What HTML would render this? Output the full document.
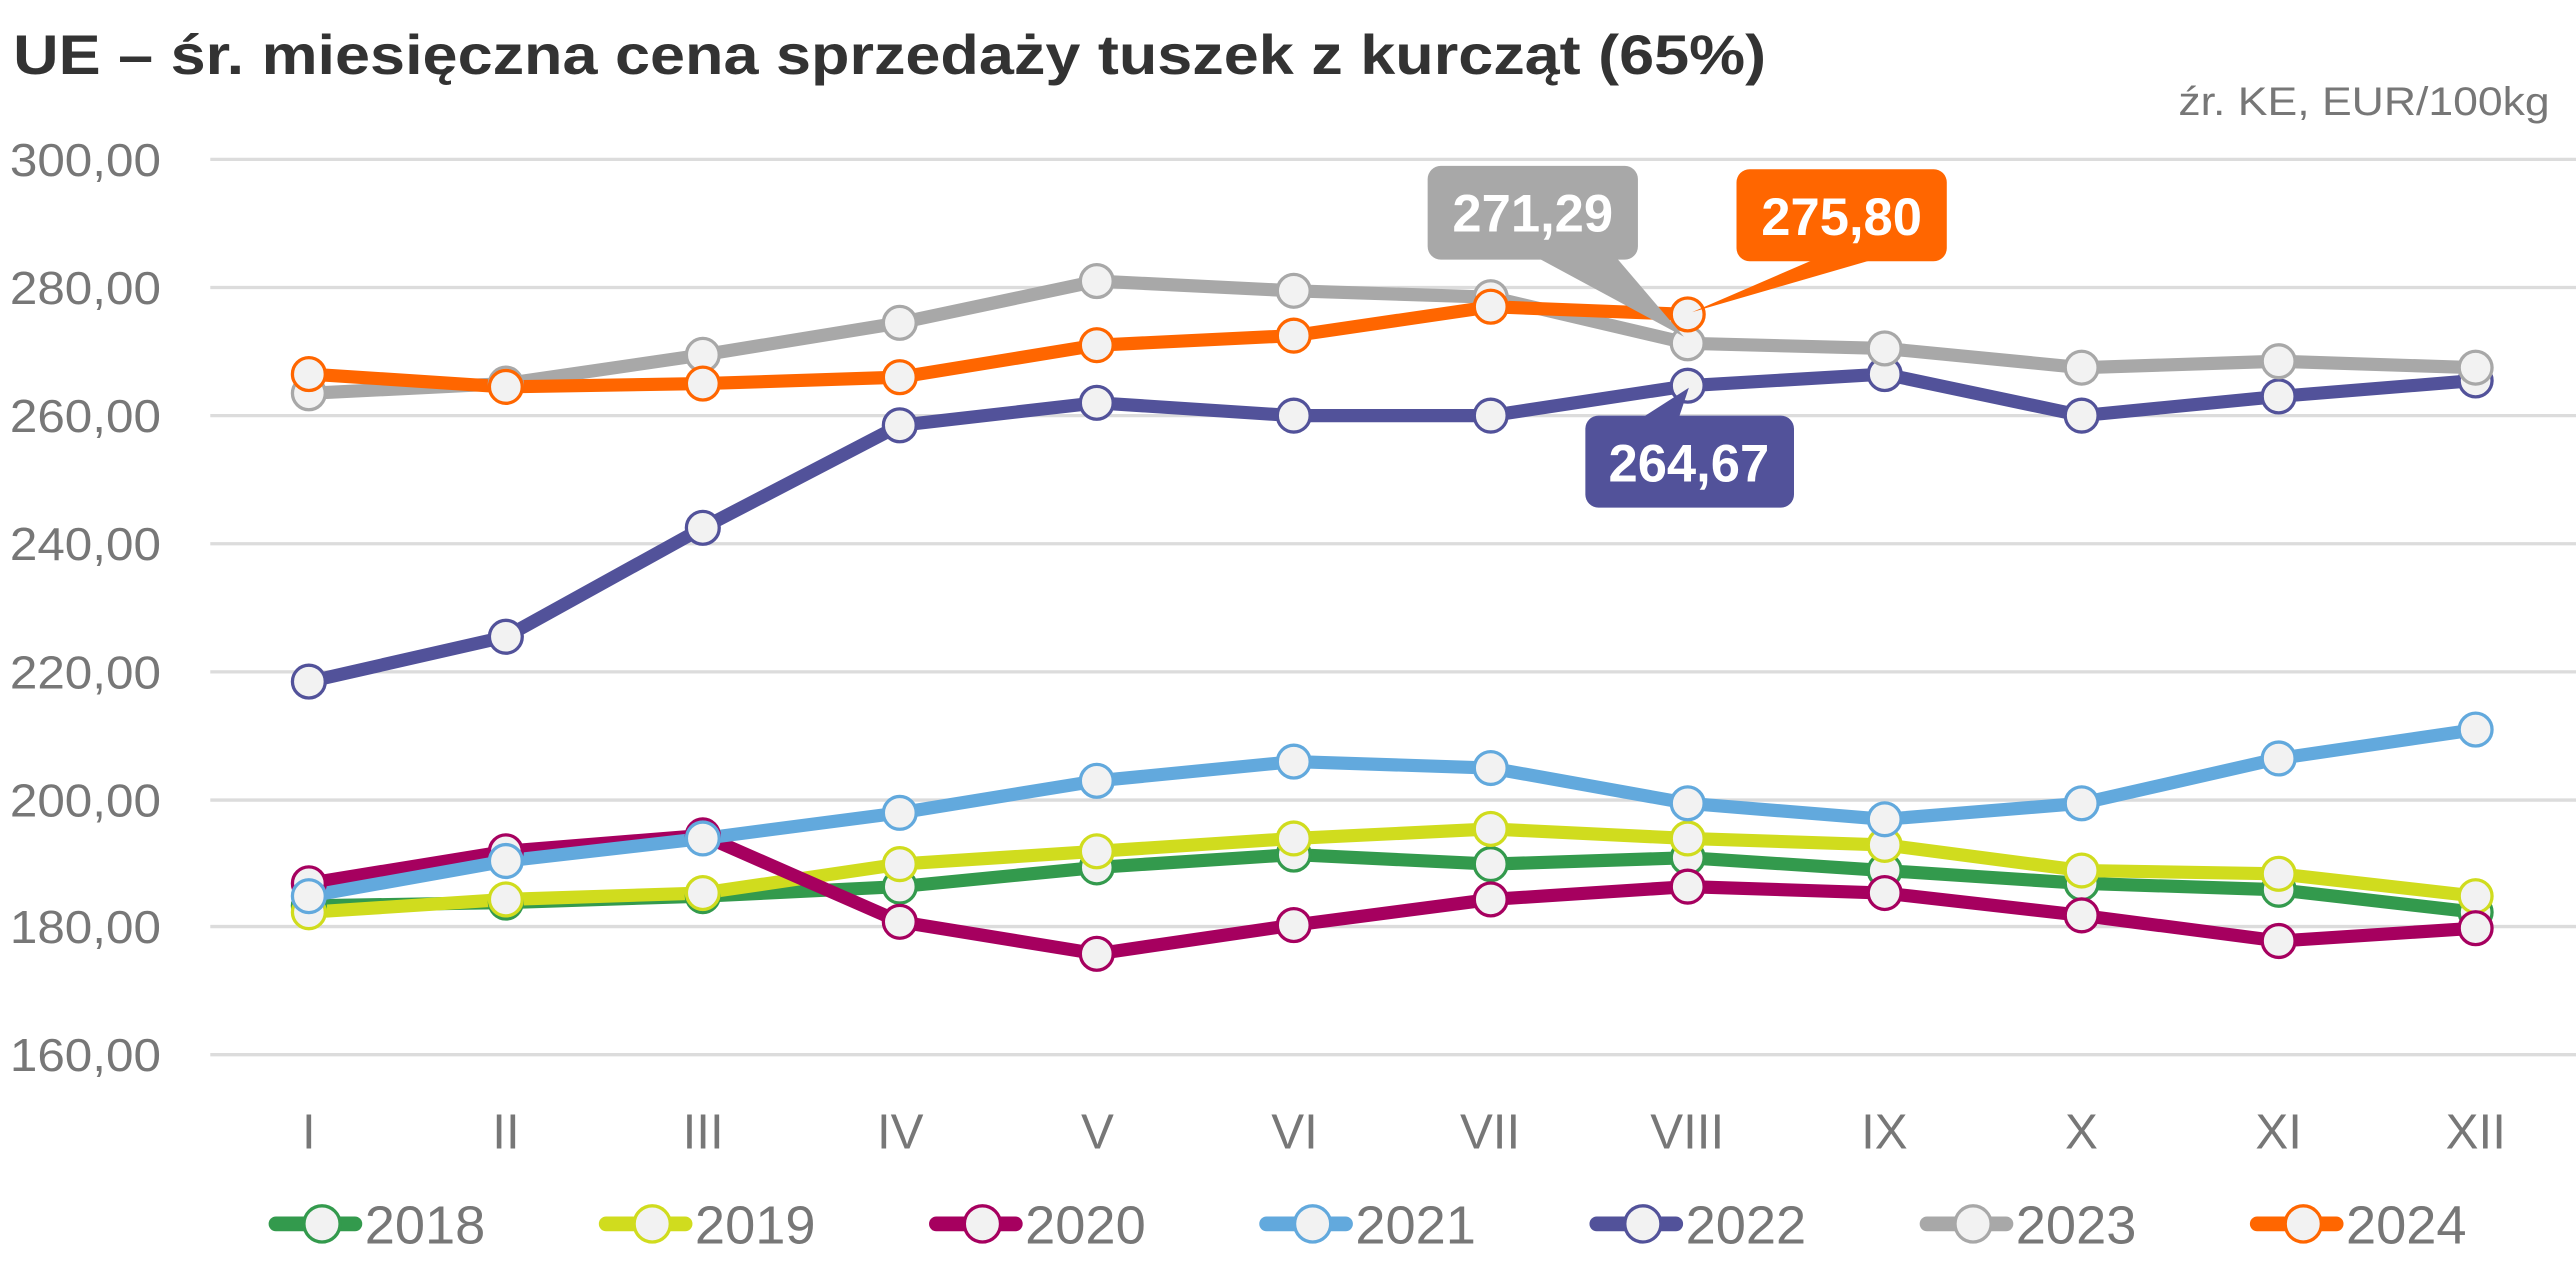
<!DOCTYPE html>
<html><head><meta charset="utf-8"><style>
html,body{margin:0;padding:0;background:#fff;}
svg{display:block;}
text{font-family:"Liberation Sans",sans-serif;}
</style></head><body>
<svg width="2576" height="1274" viewBox="0 0 1568 775.5" preserveAspectRatio="none" xmlns="http://www.w3.org/2000/svg">
<rect width="1568" height="775.5" fill="#fff"/>
<text x="8" y="45" font-size="34" font-weight="bold" fill="#333" textLength="1067" lengthAdjust="spacingAndGlyphs">UE – śr. miesięczna cena sprzedaży tuszek z kurcząt (65%)</text>
<text x="1552" y="70" font-size="24" fill="#777" text-anchor="end" textLength="226" lengthAdjust="spacingAndGlyphs">źr. KE, EUR/100kg</text>
<g stroke="#dcdcdc" stroke-width="2">
<line x1="128" x2="1568" y1="97" y2="97"/><line x1="128" x2="1568" y1="175" y2="175"/><line x1="128" x2="1568" y1="253" y2="253"/><line x1="128" x2="1568" y1="331" y2="331"/><line x1="128" x2="1568" y1="409" y2="409"/><line x1="128" x2="1568" y1="487" y2="487"/><line x1="128" x2="1568" y1="564" y2="564"/><line x1="128" x2="1568" y1="642" y2="642"/>
</g>
<g font-size="28" fill="#777">
<text x="6" y="107" textLength="92" lengthAdjust="spacingAndGlyphs">300,00</text>
<text x="6" y="185" textLength="92" lengthAdjust="spacingAndGlyphs">280,00</text>
<text x="6" y="263" textLength="92" lengthAdjust="spacingAndGlyphs">260,00</text>
<text x="6" y="341" textLength="92" lengthAdjust="spacingAndGlyphs">240,00</text>
<text x="6" y="419" textLength="92" lengthAdjust="spacingAndGlyphs">220,00</text>
<text x="6" y="497" textLength="92" lengthAdjust="spacingAndGlyphs">200,00</text>
<text x="6" y="574" textLength="92" lengthAdjust="spacingAndGlyphs">180,00</text>
<text x="6" y="652" textLength="92" lengthAdjust="spacingAndGlyphs">160,00</text>
</g>
<g font-size="30" fill="#777" text-anchor="middle">
<text x="188" y="699">I</text><text x="308" y="699">II</text><text x="428" y="699">III</text><text x="548" y="699">IV</text><text x="668" y="699">V</text><text x="788" y="699">VI</text><text x="907" y="699">VII</text><text x="1027" y="699">VIII</text><text x="1147" y="699">IX</text><text x="1267" y="699">X</text><text x="1387" y="699">XI</text><text x="1507" y="699">XII</text>
</g>
<g fill="none" stroke-width="8" stroke-linejoin="round" stroke-linecap="round">
<polyline stroke="#339a4d" points="188,551.4 307.9,549.4 427.8,545.5 547.7,539.7 667.6,528 787.5,520.2 907.4,526 1027.3,522.1 1147.2,529.9 1267.1,537.7 1387,541.6 1506.9,555.3"/>
<polyline stroke="#d0dc1e" points="188,555.3 307.9,547.5 427.8,543.6 547.7,526 667.6,518.2 787.5,510.4 907.4,504.6 1027.3,510.4 1147.2,514.3 1267.1,529.9 1387,531.9 1506.9,545.5"/>
<polyline stroke="#a6005f" points="188,537.7 307.9,518.2 427.8,508.5 547.7,561.1 667.6,580.6 787.5,563.1 907.4,547.5 1027.3,539.7 1147.2,543.6 1267.1,557.2 1387,572.8 1506.9,565"/>
<polyline stroke="#62a9dd" points="188,545.5 307.9,524.1 427.8,510.4 547.7,494.8 667.6,475.3 787.5,463.6 907.4,467.5 1027.3,489 1147.2,498.7 1267.1,489 1387,461.7 1506.9,444.1"/>
<polyline stroke="#52529a" points="188,414.9 307.9,387.6 427.8,321.3 547.7,258.9 667.6,245.2 787.5,253 907.4,253 1027.3,234.8 1147.2,227.7 1267.1,253 1387,241.3 1506.9,231.6"/>
<polyline stroke="#a8a8a8" points="188,239.4 307.9,233.5 427.8,216 547.7,196.5 667.6,171.1 787.5,177 907.4,180.9 1027.3,209 1147.2,212.1 1267.1,223.8 1387,219.9 1506.9,223.8"/>
<polyline stroke="#ff6600" points="188,227.7 307.9,235.5 427.8,233.5 547.7,229.6 667.6,210.1 787.5,204.3 907.4,186.7 1027.3,191.4"/>
</g>
<g fill="#f2f2f2" stroke-width="2">
<g stroke="#339a4d"><circle cx="188" cy="551.4" r="10"/><circle cx="307.9" cy="549.4" r="10"/><circle cx="427.8" cy="545.5" r="10"/><circle cx="547.7" cy="539.7" r="10"/><circle cx="667.6" cy="528" r="10"/><circle cx="787.5" cy="520.2" r="10"/><circle cx="907.4" cy="526" r="10"/><circle cx="1027.3" cy="522.1" r="10"/><circle cx="1147.2" cy="529.9" r="10"/><circle cx="1267.1" cy="537.7" r="10"/><circle cx="1387" cy="541.6" r="10"/><circle cx="1506.9" cy="555.3" r="10"/></g>
<g stroke="#d0dc1e"><circle cx="188" cy="555.3" r="10"/><circle cx="307.9" cy="547.5" r="10"/><circle cx="427.8" cy="543.6" r="10"/><circle cx="547.7" cy="526" r="10"/><circle cx="667.6" cy="518.2" r="10"/><circle cx="787.5" cy="510.4" r="10"/><circle cx="907.4" cy="504.6" r="10"/><circle cx="1027.3" cy="510.4" r="10"/><circle cx="1147.2" cy="514.3" r="10"/><circle cx="1267.1" cy="529.9" r="10"/><circle cx="1387" cy="531.9" r="10"/><circle cx="1506.9" cy="545.5" r="10"/></g>
<g stroke="#a6005f"><circle cx="188" cy="537.7" r="10"/><circle cx="307.9" cy="518.2" r="10"/><circle cx="427.8" cy="508.5" r="10"/><circle cx="547.7" cy="561.1" r="10"/><circle cx="667.6" cy="580.6" r="10"/><circle cx="787.5" cy="563.1" r="10"/><circle cx="907.4" cy="547.5" r="10"/><circle cx="1027.3" cy="539.7" r="10"/><circle cx="1147.2" cy="543.6" r="10"/><circle cx="1267.1" cy="557.2" r="10"/><circle cx="1387" cy="572.8" r="10"/><circle cx="1506.9" cy="565" r="10"/></g>
<g stroke="#62a9dd"><circle cx="188" cy="545.5" r="10"/><circle cx="307.9" cy="524.1" r="10"/><circle cx="427.8" cy="510.4" r="10"/><circle cx="547.7" cy="494.8" r="10"/><circle cx="667.6" cy="475.3" r="10"/><circle cx="787.5" cy="463.6" r="10"/><circle cx="907.4" cy="467.5" r="10"/><circle cx="1027.3" cy="489" r="10"/><circle cx="1147.2" cy="498.7" r="10"/><circle cx="1267.1" cy="489" r="10"/><circle cx="1387" cy="461.7" r="10"/><circle cx="1506.9" cy="444.1" r="10"/></g>
<g stroke="#52529a"><circle cx="188" cy="414.9" r="10"/><circle cx="307.9" cy="387.6" r="10"/><circle cx="427.8" cy="321.3" r="10"/><circle cx="547.7" cy="258.9" r="10"/><circle cx="667.6" cy="245.2" r="10"/><circle cx="787.5" cy="253" r="10"/><circle cx="907.4" cy="253" r="10"/><circle cx="1027.3" cy="234.8" r="10"/><circle cx="1147.2" cy="227.7" r="10"/><circle cx="1267.1" cy="253" r="10"/><circle cx="1387" cy="241.3" r="10"/><circle cx="1506.9" cy="231.6" r="10"/></g>
<g stroke="#a8a8a8"><circle cx="188" cy="239.4" r="10"/><circle cx="307.9" cy="233.5" r="10"/><circle cx="427.8" cy="216" r="10"/><circle cx="547.7" cy="196.5" r="10"/><circle cx="667.6" cy="171.1" r="10"/><circle cx="787.5" cy="177" r="10"/><circle cx="907.4" cy="180.9" r="10"/><circle cx="1027.3" cy="209" r="10"/><circle cx="1147.2" cy="212.1" r="10"/><circle cx="1267.1" cy="223.8" r="10"/><circle cx="1387" cy="219.9" r="10"/><circle cx="1506.9" cy="223.8" r="10"/></g>
<g stroke="#ff6600"><circle cx="188" cy="227.7" r="10"/><circle cx="307.9" cy="235.5" r="10"/><circle cx="427.8" cy="233.5" r="10"/><circle cx="547.7" cy="229.6" r="10"/><circle cx="667.6" cy="210.1" r="10"/><circle cx="787.5" cy="204.3" r="10"/><circle cx="907.4" cy="186.7" r="10"/><circle cx="1027.3" cy="191.4" r="10"/></g>
</g>
<rect x="869" y="101" width="128" height="57" rx="8" fill="#a8a8a8"/>
<polygon points="936,157 984,157 1025,205" fill="#a8a8a8"/>
<text x="933" y="141" font-size="32" font-weight="bold" fill="#fff" text-anchor="middle">271,29</text>
<rect x="1057" y="103" width="128" height="56" rx="8" fill="#ff6600"/>
<polygon points="1104,158 1140,158 1030,190" fill="#ff6600"/>
<text x="1121" y="143" font-size="32" font-weight="bold" fill="#fff" text-anchor="middle">275,80</text>
<rect x="965" y="253" width="127" height="56" rx="8" fill="#52529a"/>
<polygon points="1000,254 1022,254 1028,236" fill="#52529a"/>
<text x="1028" y="293" font-size="32" font-weight="bold" fill="#fff" text-anchor="middle">264,67</text>
<g font-size="33" fill="#777" stroke-linecap="round">
<g><line x1="168" x2="216" y1="745" y2="745" stroke="#339a4d" stroke-width="9"/><circle cx="196" cy="745" r="11" fill="#f2f2f2" stroke="#339a4d" stroke-width="2"/><text x="222" y="757">2018</text></g>
<g transform="translate(201,0)"><line x1="168" x2="216" y1="745" y2="745" stroke="#d0dc1e" stroke-width="9"/><circle cx="196" cy="745" r="11" fill="#f2f2f2" stroke="#d0dc1e" stroke-width="2"/><text x="222" y="757">2019</text></g>
<g transform="translate(402,0)"><line x1="168" x2="216" y1="745" y2="745" stroke="#a6005f" stroke-width="9"/><circle cx="196" cy="745" r="11" fill="#f2f2f2" stroke="#a6005f" stroke-width="2"/><text x="222" y="757">2020</text></g>
<g transform="translate(603,0)"><line x1="168" x2="216" y1="745" y2="745" stroke="#62a9dd" stroke-width="9"/><circle cx="196" cy="745" r="11" fill="#f2f2f2" stroke="#62a9dd" stroke-width="2"/><text x="222" y="757">2021</text></g>
<g transform="translate(804,0)"><line x1="168" x2="216" y1="745" y2="745" stroke="#52529a" stroke-width="9"/><circle cx="196" cy="745" r="11" fill="#f2f2f2" stroke="#52529a" stroke-width="2"/><text x="222" y="757">2022</text></g>
<g transform="translate(1005,0)"><line x1="168" x2="216" y1="745" y2="745" stroke="#a8a8a8" stroke-width="9"/><circle cx="196" cy="745" r="11" fill="#f2f2f2" stroke="#a8a8a8" stroke-width="2"/><text x="222" y="757">2023</text></g>
<g transform="translate(1206,0)"><line x1="168" x2="216" y1="745" y2="745" stroke="#ff6600" stroke-width="9"/><circle cx="196" cy="745" r="11" fill="#f2f2f2" stroke="#ff6600" stroke-width="2"/><text x="222" y="757">2024</text></g>
</g>
</svg>
</body></html>
